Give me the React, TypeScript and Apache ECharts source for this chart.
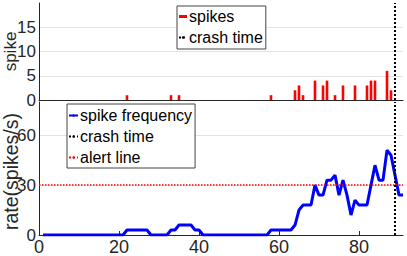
import React, { useEffect, useRef } from "react";
import * as echarts from "echarts";

// Spike events (time, number of spikes)
const spikeTimes = [22, 33, 35, 58, 64, 65, 66, 69, 71, 72, 74, 76, 79, 82, 83, 84, 87, 88];
const spikeCounts = [1, 1, 1, 1, 2, 3, 1, 4, 3, 4, 1, 3, 3, 3, 4, 4, 6, 2];

// Spike frequency (spikes/s), one value per time step starting at t = 1
const rateStart = 1;
const rateValues = [
  0, 0, 0, 0, 0, 0, 0, 0, 0, 0,
  0, 0, 0, 0, 0, 0, 0, 0, 0, 0,
  0, 3, 3, 3, 3, 3, 3, 0, 0, 0,
  0, 0, 3, 3, 6, 6, 6, 6, 3, 3,
  0, 0, 0, 0, 0, 0, 0, 0, 0, 0,
  0, 0, 0, 0, 0, 0, 0, 3, 3, 3,
  3, 3, 3, 6, 15, 18, 18, 18, 30, 24,
  24, 33, 33, 36, 24, 33, 24, 12, 21, 18,
  18, 18, 30, 42, 33, 33, 51, 48, 36, 24,
  24,
];

const crashTime = 89;
const alertLevel = 30;
const xMin = 0;
const xMax = 91;
const xInterval = 20;
const spikeAxisMax = 20;
const spikeAxisInterval = 5;
const rateAxisMax = 80;
const rateAxisInterval = 30;

const FONT = '"Liberation Sans", Arial, Helvetica, sans-serif';
const AXIS_COLOR = "#262626";
const GRID_COLOR = "#e3e3e3";

export default function App() {
  const ref = useRef<HTMLDivElement>(null);

  useEffect(() => {
    if (!ref.current) return;
    const chart = echarts.init(ref.current, undefined, { renderer: "svg" });

    const spikeData = spikeTimes.map((t, i) => [t, spikeCounts[i]]);
    const rateData = rateValues.map((v, i) => [rateStart + i, v]);

    const dotted = (color: string, width: number) => ({ type: "dotted", color, width });

    const yName = (name: string, fontSize: number, gap: number, padding: number[]) => ({
      name,
      nameLocation: "middle",
      nameGap: gap,
      nameMoveOverlap: false,
      nameTextStyle: { fontSize, color: AXIS_COLOR, fontFamily: FONT, padding },
    });

    const yLabel = {
      showMaxLabel: false,
      margin: 3,
      fontSize: 17,
      color: AXIS_COLOR,
      fontFamily: FONT,
    };

    const legendText = {
      fontSize: 16,
      color: "#000",
      fontFamily: FONT,
      lineHeight: 21,
      padding: [0, 0, 0, -3],
    };

    const option: any = {
      animation: false,
      backgroundColor: "#ffffff",
      grid: [
        { left: 39, top: 3, width: 364, height: 97, containLabel: false, outerBoundsMode: "none" },
        { left: 39, top: 102, width: 364, height: 133, containLabel: false, outerBoundsMode: "none" },
      ],
      xAxis: [
        {
          gridIndex: 0,
          type: "value",
          min: xMin,
          max: xMax,
          interval: xInterval,
          axisLine: { show: true, onZero: false, lineStyle: { color: AXIS_COLOR, width: 1 } },
          axisTick: { show: false },
          axisLabel: { show: false },
          splitLine: { show: false },
        },
        {
          gridIndex: 1,
          type: "value",
          min: xMin,
          max: xMax,
          interval: xInterval,
          axisLine: { show: true, onZero: false, lineStyle: { color: AXIS_COLOR, width: 1 } },
          axisTick: { show: true, inside: true, length: 4, lineStyle: { color: AXIS_COLOR } },
          axisLabel: {
            show: true,
            showMaxLabel: false,
            margin: 3,
            fontSize: 18,
            color: AXIS_COLOR,
            fontFamily: FONT,
          },
          splitLine: { show: false },
        },
      ],
      yAxis: [
        {
          gridIndex: 0,
          type: "value",
          min: 0,
          max: spikeAxisMax,
          interval: spikeAxisInterval,
          ...yName("spike", 17, 20, [0, 0, 0, 0]),
          axisLine: { show: true, lineStyle: { color: AXIS_COLOR, width: 1 } },
          axisTick: { show: false },
          axisLabel: yLabel,
          splitLine: {
            show: true,
            showMinLine: false,
            showMaxLine: false,
            lineStyle: { color: GRID_COLOR, width: 1 },
          },
        },
        {
          gridIndex: 1,
          type: "value",
          min: 0,
          max: rateAxisMax,
          interval: rateAxisInterval,
          ...yName("rate(spikes/s)", 19.5, 18, [0, 6, 0, 0]),
          axisLine: { show: true, lineStyle: { color: AXIS_COLOR, width: 1 } },
          axisTick: { show: false },
          axisLabel: yLabel,
          splitLine: {
            show: true,
            showMinLine: false,
            showMaxLine: false,
            lineStyle: { color: GRID_COLOR, width: 1 },
          },
        },
      ],
      legend: [
        {
          left: 177,
          top: 6,
          orient: "vertical",
          selectedMode: false,
          data: [{ name: "spikes", icon: "rect" }, { name: "crash time" }],
          itemWidth: 8,
          itemHeight: 3,
          itemGap: 0,
          padding: [0, 3, 1, 1],
          backgroundColor: "#ffffff",
          borderColor: "#444",
          borderWidth: 1,
          textStyle: legendText,
        },
        {
          left: 67,
          top: 104,
          orient: "vertical",
          selectedMode: false,
          data: [{ name: "spike frequency" }, { name: "crash time" }, { name: "alert line" }],
          itemWidth: 9,
          itemHeight: 3,
          itemGap: 0,
          padding: [1, 3, 0, 1],
          backgroundColor: "#ffffff",
          borderColor: "#444",
          borderWidth: 1,
          textStyle: legendText,
        },
      ],
      series: [
        {
          name: "spikes",
          type: "bar",
          xAxisIndex: 0,
          yAxisIndex: 0,
          barWidth: 2.6,
          itemStyle: { color: "#ff0000" },
          data: spikeData,
        },
        {
          name: "crash time",
          type: "line",
          xAxisIndex: 0,
          yAxisIndex: 0,
          symbol: "none",
          data: [],
          lineStyle: dotted("#000000", 2),
          itemStyle: { color: "#000000" },
          markLine: {
            silent: true,
            symbol: "none",
            label: { show: false },
            lineStyle: dotted("#000000", 2),
            data: [{ xAxis: crashTime }],
          },
        },
        {
          name: "alert line",
          type: "line",
          xAxisIndex: 1,
          yAxisIndex: 1,
          symbol: "none",
          data: [],
          lineStyle: dotted("#ff0000", 1.5),
          itemStyle: { color: "#ff0000" },
          markLine: {
            silent: true,
            symbol: "none",
            label: { show: false },
            lineStyle: dotted("#ff0000", 1.5),
            data: [{ yAxis: alertLevel }],
          },
        },
        {
          name: "crash time",
          type: "line",
          xAxisIndex: 1,
          yAxisIndex: 1,
          symbol: "none",
          data: [],
          lineStyle: dotted("#000000", 2),
          itemStyle: { color: "#000000" },
          markLine: {
            silent: true,
            symbol: "none",
            label: { show: false },
            lineStyle: dotted("#000000", 2),
            data: [{ xAxis: crashTime }],
          },
        },
        {
          name: "spike frequency",
          type: "line",
          xAxisIndex: 1,
          yAxisIndex: 1,
          symbol: "none",
          data: rateData,
          lineStyle: { color: "#0000ff", width: 3 },
          itemStyle: { color: "#0000ff" },
          z: 3,
        },
      ],
    };

    chart.setOption(option);
    return () => chart.dispose();
  }, []);

  return (
    <div
      ref={ref}
      style={{ position: "fixed", left: 0, top: 0, width: 407, height: 256 }}
    />
  );
}
